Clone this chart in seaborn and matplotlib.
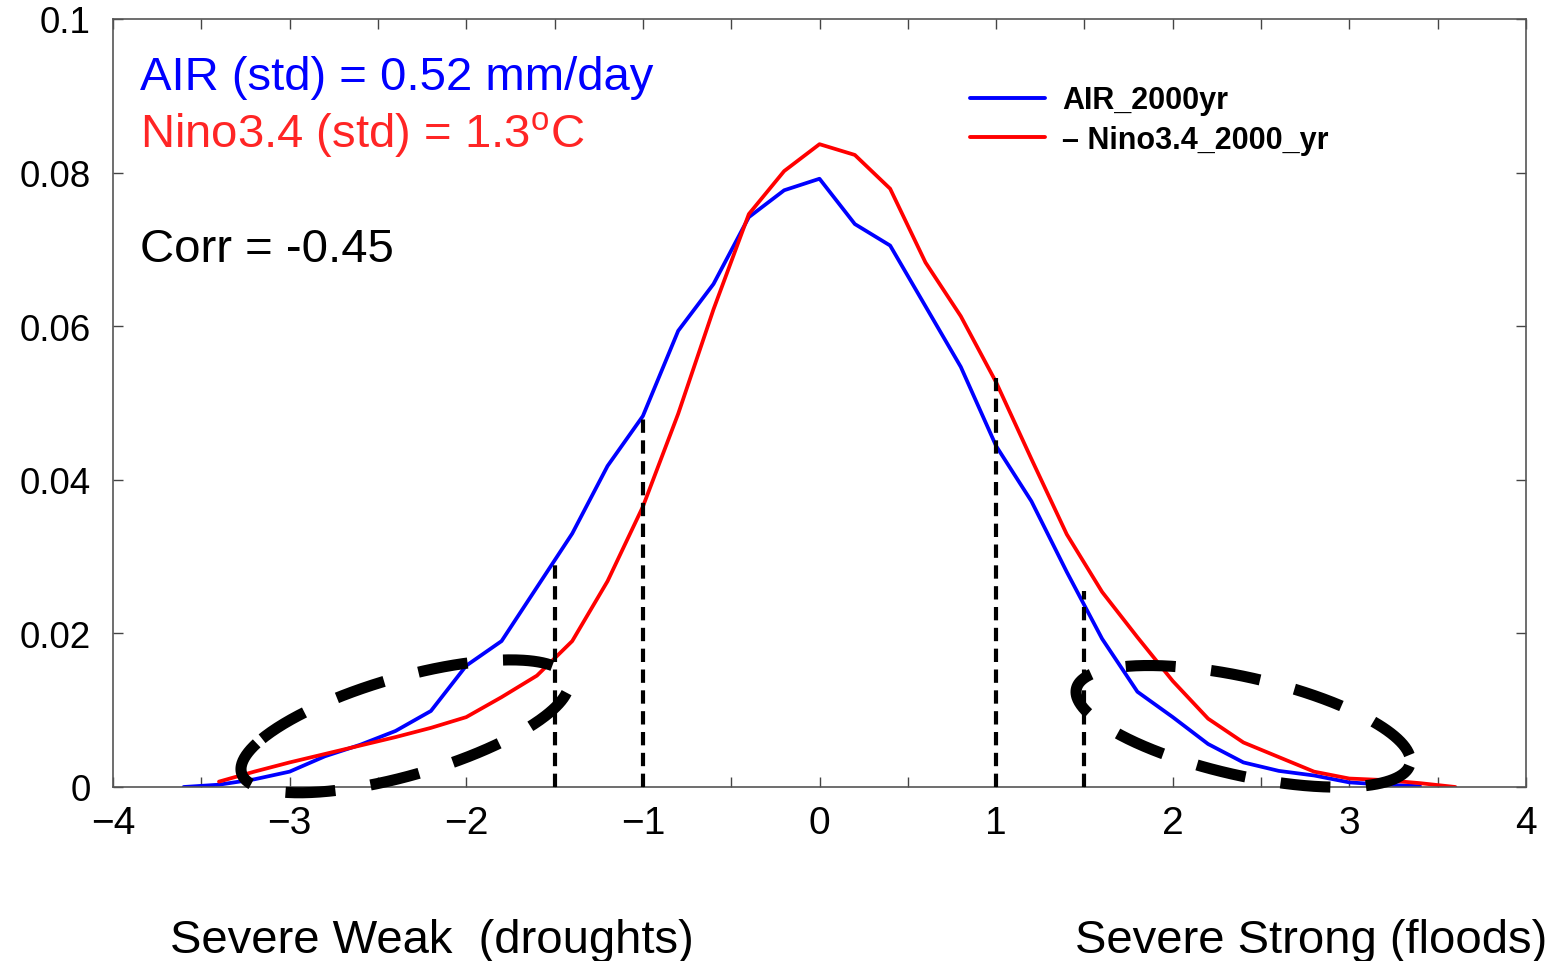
import numpy as np
import pandas as pd
import matplotlib
matplotlib.use("Agg")
import matplotlib.pyplot as plt
import seaborn as sns

# ---------------- data ----------------
air_x = [-3.6, -3.4, -3.2, -3.0, -2.8, -2.6, -2.4, -2.2, -2.0, -1.8, -1.6, -1.4, -1.2, -1.0,
         -0.8, -0.6, -0.4, -0.2, 0.0, 0.2, 0.4, 0.6, 0.8, 1.0, 1.2, 1.4, 1.6, 1.8, 2.0,
         2.2, 2.4, 2.6, 2.8, 3.0, 3.2, 3.4]
air_pdf = [0.0, 0.0003, 0.0010, 0.0020, 0.0040, 0.0055, 0.0073, 0.0099, 0.0158, 0.0190,
           0.0260, 0.0330, 0.0418, 0.0483, 0.0594, 0.0655, 0.0742, 0.0777, 0.0792, 0.0733,
           0.0705, 0.0626, 0.0547, 0.0444, 0.0372, 0.0280, 0.0193, 0.0124, 0.0091, 0.0056,
           0.0032, 0.0021, 0.0015, 0.0006, 0.0003, 0.0001]

nino_x = [-3.4, -3.2, -3.0, -2.8, -2.6, -2.4, -2.2, -2.0, -1.8, -1.6, -1.4, -1.2, -1.0,
          -0.8, -0.6, -0.4, -0.2, 0.0, 0.2, 0.4, 0.6, 0.8, 1.0, 1.2, 1.4, 1.6, 1.8, 2.0,
          2.2, 2.4, 2.6, 2.8, 3.0, 3.2, 3.4, 3.6]
nino_pdf = [0.0007, 0.0020, 0.0032, 0.0043, 0.0054, 0.0065, 0.0077, 0.0091, 0.0117, 0.0145,
            0.0190, 0.0268, 0.0365, 0.0486, 0.0622, 0.0746, 0.0802, 0.0837, 0.0823, 0.0779,
            0.0683, 0.0613, 0.0527, 0.0427, 0.0329, 0.0254, 0.0195, 0.0138, 0.0089, 0.0058,
            0.0039, 0.0020, 0.0011, 0.0009, 0.0005, 0.0]

series_names = ["AIR_2000yr", "\u2013 Nino3.4_2000_yr"]

# dashed threshold markers
thresh_x = [-1.5, -1.0, 1.0, 1.5]
thresh_top = [0.0292, 0.0486, 0.0532, 0.0255]

x_ticks = [-4, -3, -2, -1, 0, 1, 2, 3, 4]
x_ticklabels = ["\u22124", "\u22123", "\u22122", "\u22121", "0", "1", "2", "3", "4"]
y_ticks = [0, 0.02, 0.04, 0.06, 0.08, 0.1]
y_ticklabels = ["0", "0.02", "0.04", "0.06", "0.08", "0.1"]

# ---------------- style ----------------
sns.set_style("ticks")
plt.rcParams["font.family"] = ["Liberation Sans", "DejaVu Sans"]
plt.rcParams["mathtext.fontset"] = "custom"
plt.rcParams["mathtext.rm"] = "Liberation Sans"
plt.rcParams["text.color"] = "black"
plt.rcParams["xtick.labelcolor"] = "black"
plt.rcParams["ytick.labelcolor"] = "black"

W, H = 1562, 962
fig = plt.figure(figsize=(W / 100, H / 100), dpi=100)
ax = fig.add_axes([113 / W, 174 / H, 1413 / W, 768 / H])

df = pd.concat([
    pd.DataFrame({"x": air_x, "pdf": air_pdf, "series": series_names[0]}),
    pd.DataFrame({"x": nino_x, "pdf": nino_pdf, "series": series_names[1]}),
])
sns.lineplot(data=df, x="x", y="pdf", hue="series",
             palette={series_names[0]: "#0000ff", series_names[1]: "#ff0000"},
             linewidth=2.7, ax=ax, legend=True, errorbar=None, sort=True)

ax.set_xlim(-4, 4)
ax.set_ylim(0, 0.1)
ax.set_xlabel("")
ax.set_ylabel("")

ax.vlines(thresh_x, 0, thresh_top, colors="black", linewidth=3.0,
          linestyles=(0, (3.2, 1.8)), zorder=4)

# ticks
ax.set_xticks(x_ticks)
ax.set_xticklabels(x_ticklabels, fontsize=28, color="black")
ax.set_xticks(np.arange(-3.5, 4, 1.0), minor=True)
ax.set_yticks(y_ticks)
ax.set_yticklabels(y_ticklabels, fontsize=26.5, color="black")
ax.tick_params(axis="both", which="both", direction="in", top=True, right=True,
               length=7, width=1.0, color="#444444")
ax.tick_params(axis="x", which="major", pad=13)
ax.tick_params(axis="y", which="major", pad=16)
for s in ax.spines.values():
    s.set_color("#555555")
    s.set_linewidth(1.2)

# legend
handles, labels = ax.get_legend_handles_labels()
leg = ax.legend(handles, labels, loc="upper left",
                bbox_to_anchor=(955 / W, 1 - 71 / H), bbox_transform=fig.transFigure,
                frameon=False, borderpad=0, handlelength=2.45, handletextpad=0.55,
                labelspacing=0.32, prop={"weight": "bold", "size": 22})
for ln in leg.get_lines():
    ln.set_linewidth(2.8)
for t in leg.get_texts():
    t.set_color("black")

# annotation texts
fig.text(140 / W, 1 - 90 / H, "AIR (std) = 0.52 mm/day", color="#0000ff",
         fontsize=34, va="baseline", ha="left")
fig.text(140 / W, 1 - 147 / H, "Nino3.4 (std) = 1.3$^{\\mathrm{o}}$C", color="#ff2525",
         fontsize=34, va="baseline", ha="left")
fig.text(140 / W, 1 - 262 / H, "Corr = -0.45", color="black",
         fontsize=34, va="baseline", ha="left")
fig.text(170 / W, 1 - 953 / H, "Severe Weak  (droughts)", color="black",
         fontsize=34, va="baseline", ha="left")
fig.text(1075 / W, 1 - 953 / H, "Severe Strong (floods)", color="black",
         fontsize=34, va="baseline", ha="left")

# dashed ellipses highlighting the tails (built in display space so the shape is not skewed)
def dashed_ellipse(cx, cy, a_px, b_px, angle_deg, t0_deg):
    c = ax.transData.transform((cx, cy))
    t = np.deg2rad(np.linspace(t0_deg, t0_deg + 360, 400))
    th = np.deg2rad(angle_deg)
    ex = a_px * np.cos(t)
    ey = b_px * np.sin(t)
    px = c[0] + ex * np.cos(th) - ey * np.sin(th)
    py = c[1] + ex * np.sin(th) + ey * np.cos(th)
    pts = ax.transData.inverted().transform(np.column_stack([px, py]))
    ax.plot(pts[:, 0], pts[:, 1], color="black", linewidth=8,
            linestyle=(0, (4.5, 3.2)), solid_capstyle="butt", dash_capstyle="butt",
            zorder=5, clip_on=False)

dashed_ellipse(-2.347, 0.0079, 170, 49, 16, 150)
dashed_ellipse(2.399, 0.0079, 171, 49, -12.7, 10)

fig.savefig("out.png", dpi=100)
